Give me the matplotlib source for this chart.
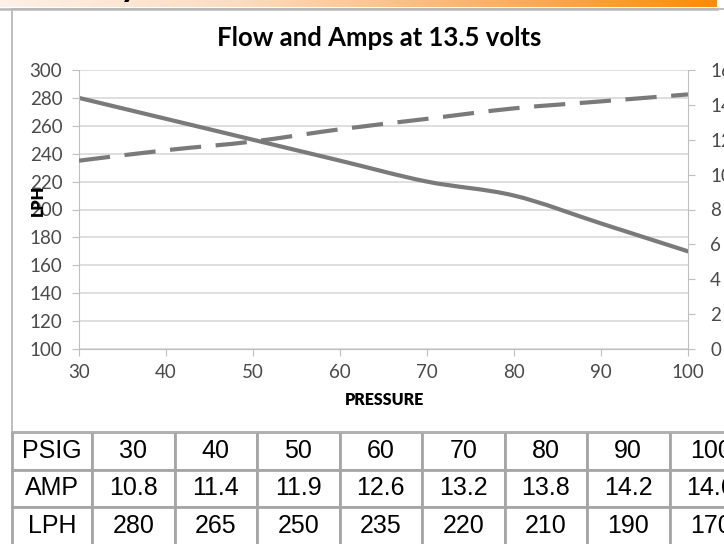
import numpy as np
import matplotlib
matplotlib.use("Agg")
import matplotlib.pyplot as plt
from matplotlib.path import Path
from matplotlib.patches import PathPatch, Rectangle
from matplotlib.lines import Line2D
from matplotlib.colors import LinearSegmentedColormap

# data
psig = [30, 40, 50, 60, 70, 80, 90, 100]
amp = [10.8, 11.4, 11.9, 12.6, 13.2, 13.8, 14.2, 14.6]
lph = [280, 265, 250, 235, 220, 210, 190, 170]

lph_ticks = [100, 120, 140, 160, 180, 200, 220, 240, 260, 280, 300]
amp_ticks = [0, 2, 4, 6, 8, 10, 12, 14, 16]
row_names = ["PSIG", "AMP", "LPH"]

W, H = 724, 544
LINE_COL = "#7a7a7a"
AXIS_COL = "#bfbfbf"
LABEL_COL = "#4a4a4a"
FONT = "Lato"


def px(x0, y0, w, h):
    # pixel box (from top left) -> figure fraction
    return [x0 / W, 1 - (y0 + h) / H, w / W, h / H]


def smooth_path(xs, ys):
    # excel style smoothed line: bezier through every point
    pts = np.column_stack([xs, ys]).astype(float)
    ext = np.vstack([pts[0], pts, pts[-1]])
    verts = [pts[0]]
    codes = [Path.MOVETO]
    for i in range(len(pts) - 1):
        p0, p1, p2, p3 = ext[i], ext[i + 1], ext[i + 2], ext[i + 3]
        verts += [p1 + (p2 - p0) / 6, p2 - (p3 - p1) / 6, p2]
        codes += [Path.CURVE4] * 3
    return Path(verts, codes)


fig = plt.figure(figsize=(W / 100, H / 100), dpi=100)

# orange banner at the top of the slide
bax = fig.add_axes(px(0, 0, 717, 7))
orange = LinearSegmentedColormap.from_list(
    "band", ["#fdf1e8", "#fcdcc0", "#fdb36a", "#ff8a0a"])
bax.imshow(np.linspace(0, 1, 256)[None, :], aspect="auto", cmap=orange)
bax.axis("off")
# tail of the slide heading, cut by the screenshot
fig.text(129 / W, 1 + 4 / H, "y", ha="center", va="baseline",
         fontsize=26, fontweight="bold", family=FONT, color="black")
fig.add_artist(Line2D([0, 717 / W], [1 - 8.5 / H] * 2, color="#b8b8b8", lw=1.8))

# chart frame
fig.add_artist(Rectangle((11.5 / W, 1 - 432 / H), 1.0, 423 / H, fill=False,
                         edgecolor="#b3b3b3", lw=1.2, transform=fig.transFigure))

# main chart
ax = fig.add_axes(px(79, 70, 609, 279))
ax.set_xlim(30, 100)
ax.set_ylim(100, 300)
ax.set_xticks(psig)
ax.set_yticks(lph_ticks)
ax.grid(axis="y", color="#d9d9d9", lw=1.2)
ax.set_axisbelow(True)
for s in ["top", "right"]:
    ax.spines[s].set_visible(False)
for s in ["left", "bottom"]:
    ax.spines[s].set_color(AXIS_COL)

ax2 = ax.twinx()
ax2.set_ylim(0, 16)
ax2.set_yticks(amp_ticks)
for s in ["top", "left", "bottom"]:
    ax2.spines[s].set_visible(False)
ax2.spines["right"].set_color(AXIS_COL)

for a in (ax, ax2):
    a.tick_params(direction="out", length=5, color=AXIS_COL,
                  labelcolor=LABEL_COL, labelsize=13.5)
    for lab in a.get_xticklabels() + a.get_yticklabels():
        lab.set_family(FONT)
ax.tick_params(axis="y", pad=7)
ax.tick_params(axis="x", pad=6)
ax2.tick_params(axis="y", pad=11)

ax.add_patch(PathPatch(smooth_path(psig, lph), fill=False, edgecolor=LINE_COL,
                       lw=3, joinstyle="round", capstyle="round"))
ax2.add_patch(PathPatch(smooth_path(psig, amp), fill=False, edgecolor=LINE_COL,
                        lw=3, linestyle=(0, (7.5, 3.5)), capstyle="butt"))

fig.text(379 / W, 1 - 38 / H, "Flow and Amps at 13.5 volts", ha="center",
         va="center", fontsize=18.5, fontweight="bold", family=FONT, color="black")
fig.text(384 / W, 1 - 400 / H, "PRESSURE", ha="center", va="center",
         fontsize=11.5, fontweight="heavy", family=FONT, color="black")
fig.text(38 / W, 1 - 200 / H, "LPH", ha="center", va="center", rotation=90,
         fontsize=11.5, fontweight="heavy", family=FONT, color="black")

# table under the chart
tax = fig.add_axes(px(12, 432, 740, 112.5))
tax.axis("off")
cells = [
    [row_names[0]] + [str(v) for v in psig],
    [row_names[1]] + [f"{v:.1f}" for v in amp],
    [row_names[2]] + [str(v) for v in lph],
]
tbl = tax.table(cellText=cells, cellLoc="center", bbox=[0, 0, 1, 1],
                colWidths=[80] + [82.5] * len(psig))
tbl.auto_set_font_size(False)
for cell in tbl.get_celld().values():
    cell.set_edgecolor("#a6a6a6")
    cell.set_linewidth(2)
    cell.get_text().set_fontsize(18)
    cell.get_text().set_family("Liberation Sans")

fig.savefig("out.png", dpi=100)
